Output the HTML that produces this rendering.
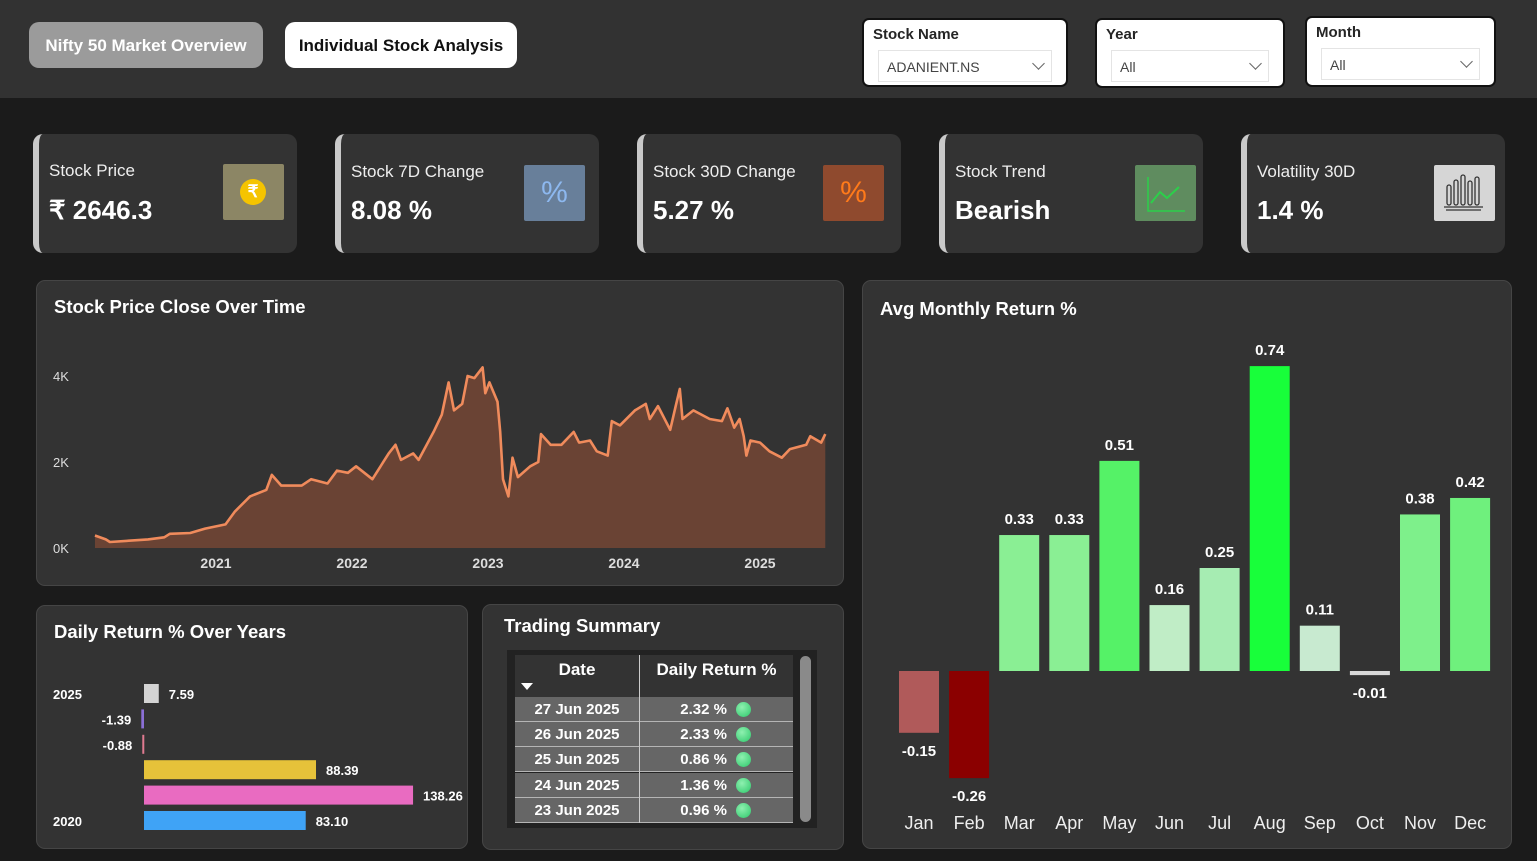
<!DOCTYPE html>
<html><head><meta charset="utf-8">
<style>
body{margin:0;width:1537px;height:861px;background:#1b1b1b;font-family:"Liberation Sans",sans-serif;position:relative;overflow:hidden;color:#fff}
.abs{position:absolute}
.topbar{left:0;top:0;width:1537px;height:98px;background:#323232}
.btn{height:46px;border-radius:10px;font-size:17px;line-height:48px;text-align:center;font-family:"Liberation Sans",sans-serif;font-weight:bold}
.slicer{background:#fff;border:2px solid #111;border-radius:7px;color:#222}
.slicer .lab{position:absolute;left:9px;top:6px;font-size:15px;font-weight:bold;color:#252525}
.slicer .box{position:absolute;left:14px;top:30px;right:14px;height:30px;border:1px solid #e4e4e4;font-size:14px;line-height:32px;padding-left:8px;color:#444}
.slicer .chev{position:absolute;right:8px;top:8px;width:8px;height:8px;border-right:1.3px solid #666;border-bottom:1.3px solid #666;transform:rotate(45deg)}
.card{top:134px;width:258px;height:119px;background:#333;border-radius:10px;border-left:6px solid #c9c9c9}
.card .t{position:absolute;left:10px;top:28px;font-size:17px;color:#eee}
.card .v{position:absolute;left:10px;top:61px;font-size:26px;font-weight:bold}
.card .ic{position:absolute;top:31px;width:61px;height:56px;border-radius:2px}
.panel{background:#333;border:1px solid #454545;border-radius:9px}
.ptitle{position:absolute;left:17px;font-size:18.5px;font-weight:bold;color:#fff}
</style></head><body>
<div class="abs topbar"></div>
<div class="abs btn" style="left:29px;top:22px;width:234px;background:#9b9b9b;color:#fff">Nifty 50 Market Overview</div>
<div class="abs btn" style="left:285px;top:22px;width:232px;background:#fff;color:#111">Individual Stock Analysis</div>

<div class="abs slicer" style="left:862px;top:18px;width:202px;height:65px"><div class="lab">Stock Name</div><div class="box">ADANIENT.NS<div class="chev"></div></div></div>
<div class="abs slicer" style="left:1095px;top:18px;width:186px;height:66px"><div class="lab">Year</div><div class="box">All<div class="chev"></div></div></div>
<div class="abs slicer" style="left:1305px;top:16px;width:187px;height:67px"><div class="lab">Month</div><div class="box">All<div class="chev"></div></div></div>

<div class="abs card" style="left:33px"><div class="t" style="top:27px">Stock Price</div><div class="v">₹ 2646.3</div>
<div class="ic" style="left:184px;top:30px;background:#8c8665"><div style="position:absolute;left:17px;top:15px;width:26px;height:26px;border-radius:50%;background:#f5c400;color:#fff;font-size:17px;text-align:center;line-height:26px;font-weight:bold">₹</div></div></div>
<div class="abs card" style="left:335px"><div class="t">Stock 7D Change</div><div class="v">8.08 %</div>
<div class="ic" style="left:183px;background:#687f9a;color:#8db8ef;font-size:30px;text-align:center;line-height:56px">%</div></div>
<div class="abs card" style="left:637px"><div class="t">Stock 30D Change</div><div class="v">5.27 %</div>
<div class="ic" style="left:180px;background:#8f4a2e;color:#ff7a1a;font-size:30px;text-align:center;line-height:56px">%</div></div>
<div class="abs card" style="left:939px"><div class="t">Stock Trend</div><div class="v">Bearish</div>
<div class="ic" style="left:190px;background:#5f8c5f"><svg width="61" height="56"><path d="M13 12V46H50" stroke="#2bd04a" fill="none" stroke-width="1.5"/><path d="M16 38L25 27L32 33L44 22" stroke="#2bd04a" fill="none" stroke-width="2"/></svg></div></div>
<div class="abs card" style="left:1241px"><div class="t">Volatility 30D</div><div class="v">1.4 %</div>
<div class="ic" style="left:187px;background:#d6d6d6"><svg width="61" height="56"><g stroke="#333" fill="none" stroke-width="1.3"><rect x="13" y="20" width="4" height="20" rx="2"/><rect x="20" y="15" width="4" height="25" rx="2"/><rect x="27" y="10" width="4" height="30" rx="2"/><rect x="34" y="16" width="4" height="24" rx="2"/><rect x="41" y="12" width="4" height="28" rx="2"/><path d="M10 42H49M12 45H47"/></g></svg></div></div>

<div class="abs panel" style="left:36px;top:280px;width:806px;height:304px"><div class="ptitle" style="top:15px">Stock Price Close Over Time</div></div>
<div class="abs panel" style="left:36px;top:605px;width:430px;height:242px"><div class="ptitle" style="top:15px">Daily Return % Over Years</div></div>
<div class="abs panel" style="left:482px;top:604px;width:360px;height:244px"><div class="ptitle" style="top:10px;left:21px">Trading Summary</div></div>
<div class="abs panel" style="left:862px;top:280px;width:648px;height:567px"><div class="ptitle" style="top:17px">Avg Monthly Return %</div></div>

<div class="abs" style="left:507px;top:650px;width:310px;height:178px;background:#222">
<div class="abs" style="left:8px;top:5px;width:278px;height:42px;background:#333"></div>
<div class="abs" style="left:132px;top:5px;width:1px;height:168px;background:#ccc"></div>
<div class="abs" style="left:8px;top:10px;width:124px;text-align:center;font-size:17px;font-weight:bold">Date</div>
<div class="abs" style="left:133px;top:10px;width:153px;text-align:center;font-size:17px;font-weight:bold">Daily Return %</div>
<div class="abs" style="left:14px;top:33px;width:0;height:0;border-left:6px solid transparent;border-right:6px solid transparent;border-top:7px solid #fff"></div>
<div class="abs" style="left:293px;top:6px;width:11px;height:166px;background:#8a8a8a;border-radius:6px"></div>
<div id="rows"></div>
</div>

<svg class="abs" style="left:0;top:0" width="1537" height="861" id="charts"></svg>

<script>
const priceDates=[2020.11,2020.19,2020.22,2020.50,2020.62,2020.66,2020.81,2020.92,2021.07,2021.14,2021.25,2021.37,2021.41,2021.48,2021.63,2021.70,2021.82,2021.89,2021.97,2022.03,2022.15,2022.27,2022.32,2022.36,2022.45,2022.49,2022.60,2022.66,2022.71,2022.75,2022.81,2022.85,2022.90,2022.96,2022.98,2023.01,2023.07,2023.09,2023.11,2023.15,2023.18,2023.22,2023.31,2023.37,2023.39,2023.46,2023.54,2023.63,2023.67,2023.75,2023.80,2023.88,2023.91,2023.97,2024.08,2024.16,2024.19,2024.25,2024.34,2024.38,2024.41,2024.43,2024.51,2024.63,2024.72,2024.76,2024.81,2024.85,2024.88,2024.90,2024.93,2025.00,2025.07,2025.16,2025.22,2025.34,2025.37,2025.45,2025.48];
const priceValues=[0.29,0.2,0.14,0.2,0.25,0.33,0.35,0.45,0.55,0.85,1.2,1.35,1.7,1.45,1.45,1.6,1.5,1.8,1.75,1.9,1.6,2.2,2.4,2.05,2.2,2.05,2.7,3.1,3.85,3.2,3.35,4.0,3.95,4.2,3.6,3.85,3.4,2.7,1.6,1.2,2.1,1.65,1.9,2.0,2.65,2.4,2.4,2.7,2.45,2.5,2.25,2.15,2.95,2.85,3.2,3.35,3.0,3.3,2.75,3.3,3.7,3.0,3.2,3.0,2.95,3.25,2.8,3.0,2.6,2.15,2.5,2.45,2.25,2.1,2.3,2.4,2.6,2.45,2.65];
const priceYTicks=[0,2,4];
const priceYLabels=["0K","2K","4K"];
const priceXTicks=[2021,2022,2023,2024,2025];
const yearCats=["2025","2024","2023","2022","2021","2020"];
const yearLabels=["2025","","","","","2020"];
const yearValues=[7.59,-1.39,-0.88,88.39,138.26,83.10];
const yearColors=["#d4d4d4","#8b6fd6","#e07a90","#e6c23a","#e96bc1","#3fa3f6"];
const months=["Jan","Feb","Mar","Apr","May","Jun","Jul","Aug","Sep","Oct","Nov","Dec"];
const monthValues=[-0.15,-0.26,0.33,0.33,0.51,0.16,0.25,0.74,0.11,-0.01,0.38,0.42];
const monthColors=["#b05a5a","#8b0000","#8aef94","#8aef94","#55f267","#c0edc6","#a6ecb2","#18ff3a","#c8ead0","#d8d8d8","#7ef08b","#6ff07d"];
const tableDates=["27 Jun 2025","26 Jun 2025","25 Jun 2025","24 Jun 2025","23 Jun 2025"];
const tableReturns=[2.32,2.33,0.86,1.36,0.96];

const NS="http://www.w3.org/2000/svg";
const svg=document.getElementById('charts');
function mk(tag,attrs,parent){const e=document.createElementNS(NS,tag);for(const k in attrs)e.setAttribute(k,attrs[k]);(parent||svg).appendChild(e);return e;}
function txt(x,y,s,attrs){const e=mk('text',Object.assign({x:x,y:y,fill:'#fff','font-family':'Liberation Sans, sans-serif'},attrs));e.textContent=s;return e;}

const px=y=>216+(y-2021)*136;
const py=v=>548-v*43;
let d="M"+px(priceDates[0])+","+py(priceValues[0]);
for(let i=1;i<priceDates.length;i++) d+=" L"+px(priceDates[i]).toFixed(1)+","+py(priceValues[i]).toFixed(1);
const area=mk('path',{d:d+" L"+px(priceDates[priceDates.length-1])+","+py(0)+" L"+px(priceDates[0])+","+py(0)+" Z",fill:'#6a4334'});


const line=mk('path',{d:d,fill:'none',stroke:'#f08b5c','stroke-width':2.6,'stroke-linejoin':'round'});


priceYTicks.forEach((t,i)=>{const e=txt(53,py(t)+5,priceYLabels[i],{'font-size':13,fill:'#ddd'});});
priceXTicks.forEach(t=>{const e=txt(px(t),568,String(t),{'font-size':14,'font-weight':'bold','text-anchor':'middle',fill:'#ddd'});});

const bx=v=>144+v*1.946;
yearCats.forEach((c,i)=>{
  const cy=693+i*25.4, v=yearValues[i];
  const x0=Math.min(bx(0),bx(v)), w=Math.max(Math.abs(bx(v)-bx(0)),2);
  const r=mk('rect',{x:x0,y:cy-9,width:w,height:19,fill:yearColors[i]});
  
  
  const lab=v.toFixed(2);
  if(v>=0) txt(bx(v)+10,cy+6,lab,{'font-size':13,'font-weight':'bold'});
  else txt(bx(v)-10,cy+6,lab,{'font-size':13,'font-weight':'bold','text-anchor':'end'});
  if(yearLabels[i]) txt(53,cy+6,yearLabels[i],{'font-size':13,'font-weight':'bold'});
});

const my=v=>671-v*412;
months.forEach((m,i)=>{
  const cx=919+i*50.1, v=monthValues[i];
  const y0=Math.min(my(0),my(v)), h=Math.max(Math.abs(my(v)-my(0)),3);
  const r=mk('rect',{x:cx-20,y:y0,width:40,height:h,fill:monthColors[i]});
  
  
  const lab=v.toFixed(2);
  if(v>=0) txt(cx,my(v)-11,lab,{'font-size':15,'font-weight':'bold','text-anchor':'middle'});
  else txt(cx,my(v)+23,lab,{'font-size':15,'font-weight':'bold','text-anchor':'middle'});
  const t=txt(cx,829,m,{'font-size':18,'text-anchor':'middle',fill:'#eee'});
  
  
});

const rows=document.getElementById('rows');
tableDates.forEach((dt,i)=>{
  const r=document.createElement('div');
  
  
  r.style.cssText='position:absolute;left:8px;top:'+(47+i*25.2)+'px;width:278px;height:24px;background:#666;border-bottom:1.5px solid #b5b5b5;font-size:15px;font-weight:bold;line-height:25px';
  r.innerHTML='<div style="position:absolute;left:0;width:124px;text-align:center">'+dt+'</div><div style="position:absolute;left:124px;width:1px;height:25px;background:#ccc"></div><div style="position:absolute;left:160px;width:52px;text-align:right">'+tableReturns[i].toFixed(2)+' %</div><div style="position:absolute;left:221px;top:5px;width:15px;height:15px;border-radius:50%;background:radial-gradient(circle at 40% 35%,#8ff0b0,#2cc86a)"></div>';
  rows.appendChild(r);
});
</script>
</body></html>
